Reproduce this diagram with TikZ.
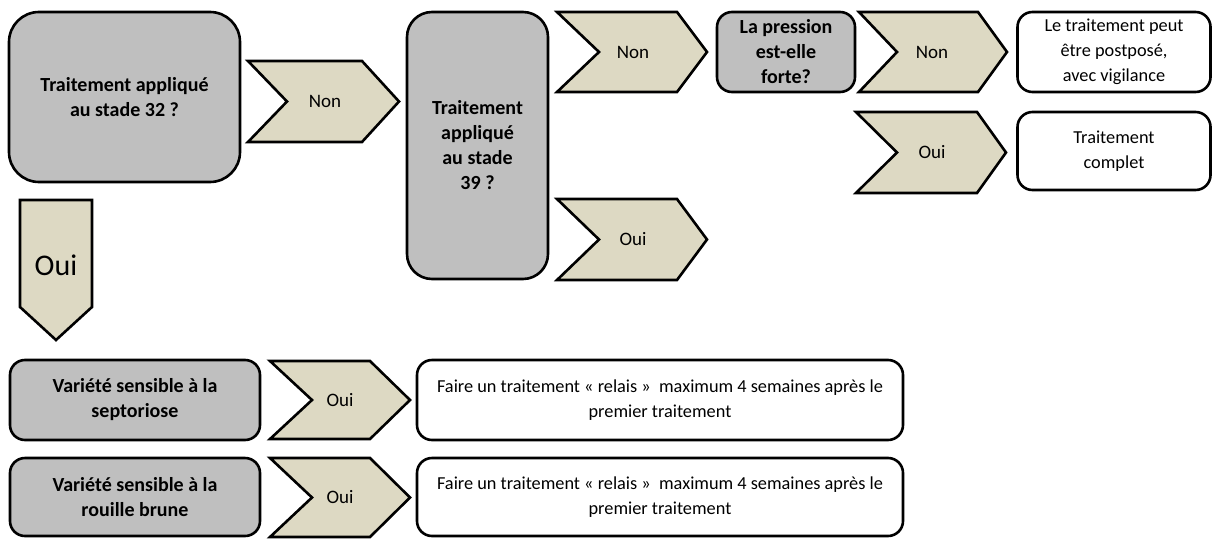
\documentclass[tikz,border=0pt]{standalone}
\usepackage{fontspec}
\setmainfont{Carlito}
\definecolor{boxgrey}{HTML}{BFBFBF}
\definecolor{tan}{HTML}{DDD9C3}
\begin{document}
\begin{tikzpicture}[x=1pt,y=-1pt,
  qbox/.style={draw, line width=2.6pt, fill=boxgrey, rounded corners=15pt, inner sep=0pt,
    align=center, font=\bfseries\fontsize{20}{25}\selectfont},
  abox/.style={draw, line width=2.6pt, fill=white, rounded corners=15pt, inner sep=0pt,
    align=center, font=\fontsize{18.3}{25}\selectfont},
  chev/.style={draw, line width=2.6pt, fill=tan, line join=miter},
  chevtext/.style={inner sep=0pt, font=\fontsize{19}{24}\selectfont}]
\useasboundingbox (0,0) rectangle (1214,538);

% question boxes
\node[qbox, rounded corners=30pt, minimum width=231pt, minimum height=170pt] (q32) at (124.5,97)
  {Traitement appliqué\\au stade 32 ?};
\node[qbox, rounded corners=25pt, minimum width=141pt, minimum height=267pt] (q39) at (477.5,145.5)
  {Traitement\\appliqué\\au stade\\39 ?};
\node[qbox, minimum width=138pt, minimum height=80pt] (qp) at (786,52)
  {La pression\\est-elle\\forte?};
\node[qbox, minimum width=250pt, minimum height=80pt] (qs) at (135,400)
  {Variété sensible à la\\septoriose};
\node[qbox, minimum width=250pt, minimum height=78pt] (qr) at (135,497)
  {Variété sensible à la\\rouille brune};

% answer boxes
\node[abox, minimum width=193pt, minimum height=80pt] (apost) at (1114,52)
  {Le traitement peut\\être postposé,\\avec vigilance};
\node[abox, minimum width=193pt, minimum height=78pt] (acomp) at (1114,151)
  {Traitement\\complet};
\node[abox, minimum width=486pt, minimum height=80pt] (as) at (660,400)
  {Faire un traitement « relais »~~maximum 4 semaines après le\\premier traitement};
\node[abox, minimum width=486pt, minimum height=78pt] (ar) at (660,497)
  {Faire un traitement « relais »~~maximum 4 semaines après le\\premier traitement};

% chevrons
\draw[chev] (248,61) -- (362,61) -- (399,101.5) -- (362,142) -- (248,142) -- (287,101.5) -- cycle;
\node[chevtext] (n1) at (325,101.5) {Non};

\draw[chev] (557,12) -- (677,12) -- (707,52) -- (677,92) -- (557,92) -- (599,52) -- cycle;
\node[chevtext] (n2) at (633,52) {Non};

\draw[chev] (557,199) -- (677,199) -- (707,239.5) -- (677,280) -- (557,280) -- (599,239.5) -- cycle;
\node[chevtext] (o2) at (633,239.5) {Oui};

\draw[chev] (859,12) -- (978,12) -- (1007,52) -- (978,92) -- (859,92) -- (897,52) -- cycle;
\node[chevtext] (n3) at (932,52) {Non};

\draw[chev] (856,112) -- (977,112) -- (1006,152.5) -- (977,193) -- (856,193) -- (897,152.5) -- cycle;
\node[chevtext] (o3) at (932,152.5) {Oui};

\draw[chev] (270,361) -- (370,361) -- (410,400) -- (370,439) -- (270,439) -- (312,400) -- cycle;
\node[chevtext] (o4) at (340,400) {Oui};

\draw[chev] (270,458) -- (370,458) -- (410,497.5) -- (370,537) -- (270,537) -- (312,497.5) -- cycle;
\node[chevtext] (o5) at (340,497.5) {Oui};

% downward arrow
\draw[chev] (20,200) -- (92,200) -- (92,307) -- (56,340) -- (20,307) -- cycle;
\node[inner sep=0pt, font=\fontsize{30}{36}\selectfont] (od) at (56,265) {Oui};
\end{tikzpicture}
\end{document}
